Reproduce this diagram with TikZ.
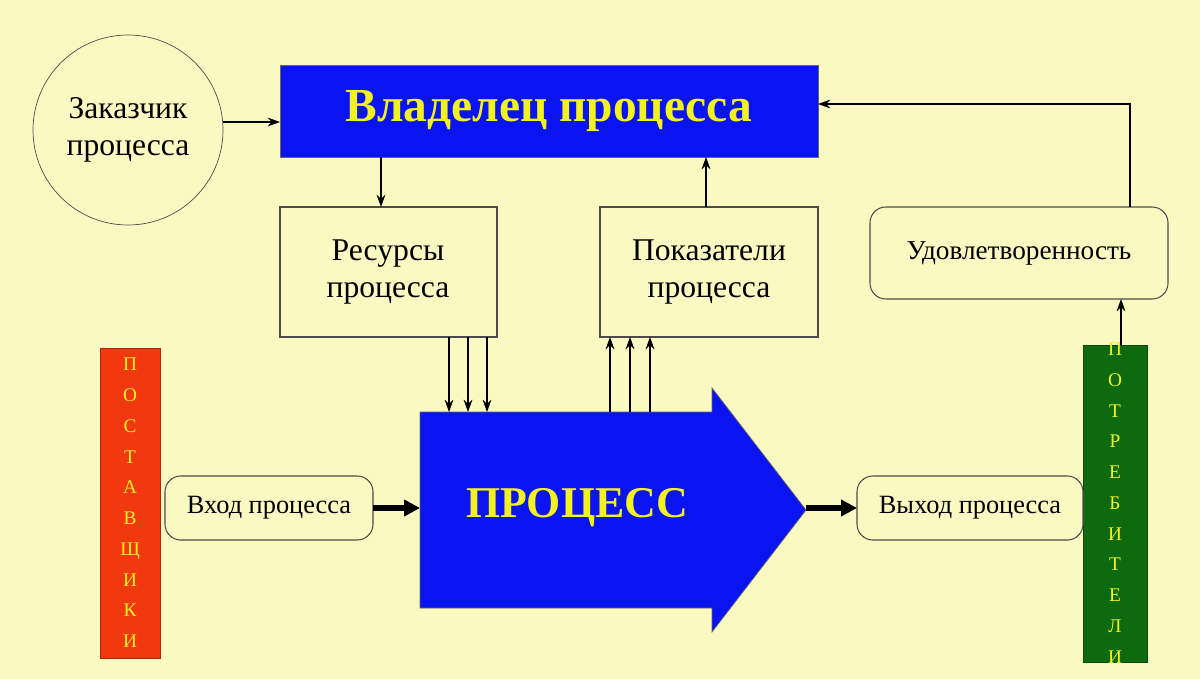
\documentclass[tikz,border=0pt]{standalone}
\usepackage{fontspec}
\setmainfont{Liberation Serif}
\usetikzlibrary{arrows.meta}
\definecolor{bg}{HTML}{FBF9C2}
\definecolor{pblue}{HTML}{0A14F0}
\definecolor{tyel}{HTML}{F2F21E}
\definecolor{pred}{HTML}{F2380F}
\definecolor{pgreen}{HTML}{0E6A0E}
\tikzset{
 box/.style={draw=black!70,fill=bg,line width=0.6pt},
 rbox/.style={box,rounded corners=9pt},
 arr/.style={-{Stealth[length=7pt,width=5pt]},line width=0.7pt},
 thick arr/.style={-{Triangle[length=9pt,width=9pt]},line width=3pt},
 lbl/.style={font=\fontsize{18}{21}\selectfont,align=center},
}
\begin{document}
\begin{tikzpicture}[x=0.02cm,y=-0.02cm]
\useasboundingbox[fill=bg] (0,0) rectangle (1200,679);
% circle
\node[draw=black!70,fill=bg,circle,minimum size=190*0.02cm,lbl] (cust) at (128,130) {Заказчик\\процесса};
% owner
\draw[fill=pblue,draw=black!60] (280,65) rectangle (818,157);
\node[font=\fontsize{27}{30}\selectfont\bfseries,text=tyel] (owner) at (549,111) {Владелец процесса};
\coordinate (ownL) at (280,122);
\coordinate (ownR) at (818,104);
% resources / indicators
\draw[box] (280,207) rectangle (497,337);
\node[lbl] (res) at (388,272) {Ресурсы\\процесса};
\draw[box] (600,207) rectangle (818,337);
\node[lbl] (ind) at (709,272) {Показатели\\процесса};
\draw[rbox] (870,207) rectangle (1168,299);
\node[font=\fontsize{15.5}{18}\selectfont] (sat) at (1019,253) {Удовлетворенность};
% bars
\draw[fill=pred,draw=pred!70!black] (100,348) rectangle (160,658);
\node[text=tyel,font=\fontsize{11}{17.5}\selectfont,align=center] (sup) at (130,503) {П\\О\\С\\Т\\А\\В\\Щ\\И\\К\\И};
\draw[fill=pgreen,draw=pgreen!70!black] (1083,345) rectangle (1147,662);
\node[text=tyel,font=\fontsize{11}{17.5}\selectfont,align=center] (cons) at (1115,503) {П\\О\\Т\\Р\\Е\\Б\\И\\Т\\Е\\Л\\И};
% in/out
\draw[rbox] (165,476) rectangle (373,540);
\node[font=\fontsize{15}{18}\selectfont] (in) at (269,508) {Вход процесса};
\draw[rbox] (857,476) rectangle (1083,540);
\node[font=\fontsize{15}{18}\selectfont] (out) at (970,508) {Выход процесса};
% process arrow
\draw[fill=pblue,draw=black!60] (420,412) -- (712,412) -- (712,388) -- (806,510) -- (712,632) -- (712,608) -- (420,608) -- cycle;
\node[text=tyel,font=\fontsize{25}{28}\selectfont\bfseries] (proc) at (577,508) {ПРОЦЕСС};
% arrows
\draw[arr] (cust.east |- ownL) -- (ownL);
\draw[arr] (381,157) -- (381,207);
\draw[arr] (706,207) -- (706,157);
\draw[arr] (1130,207) -- (1130,104) -- (ownR);
\draw[arr] (1121,345) -- (1121,299);
\foreach \x in {449,468,487} \draw[arr] (\x,337) -- (\x,412);
\foreach \x in {610,630,650} \draw[arr] (\x,412) -- (\x,337);
\draw[thick arr] (373,508) -- (420,508);
\draw[thick arr] (806,508) -- (857,508);
\end{tikzpicture}
\end{document}
